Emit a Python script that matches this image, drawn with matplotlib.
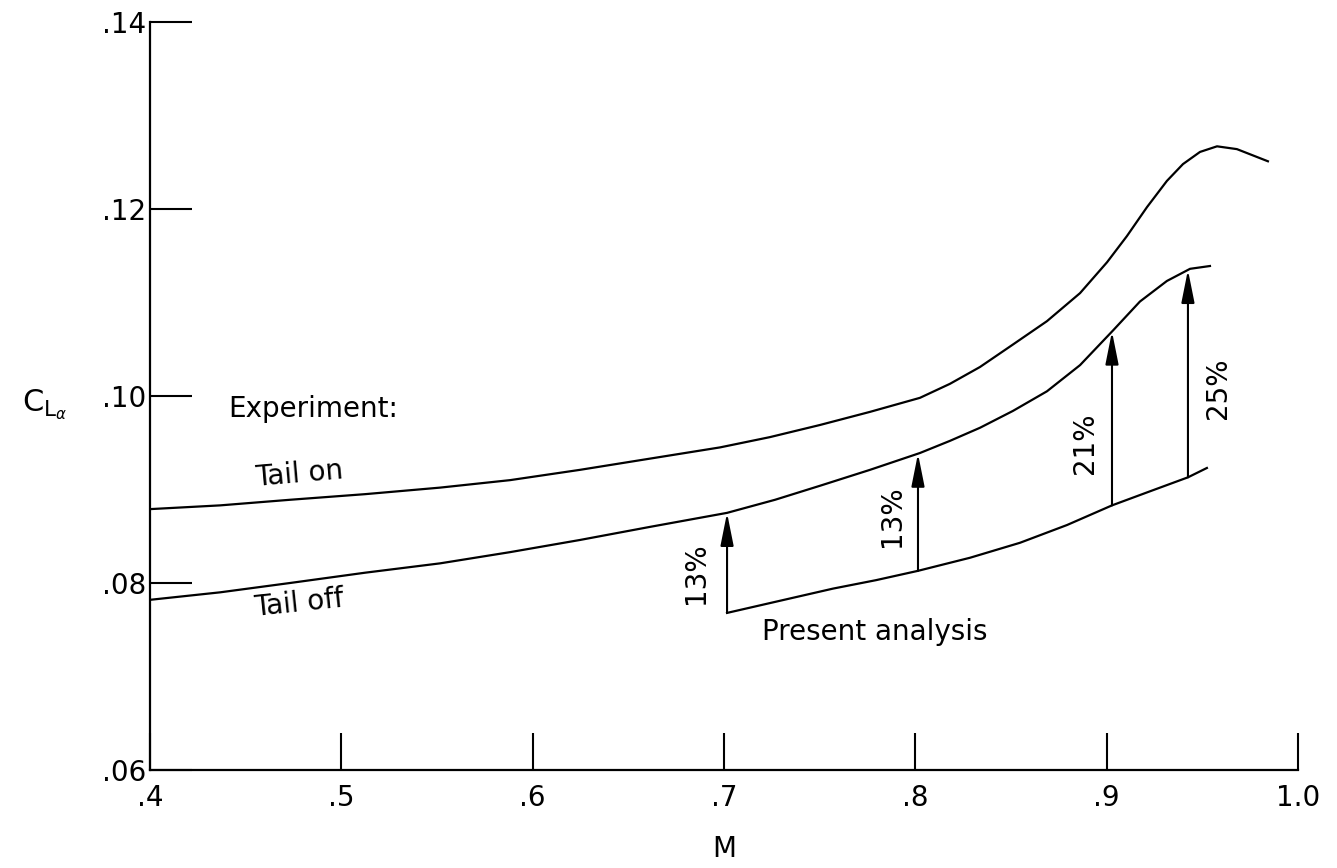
import matplotlib
matplotlib.use('Agg')
from matplotlib import pyplot as plt
import numpy as np

# Experiment, tail on
m_on = [0.4000, 0.4366, 0.4732, 0.5124, 0.5516, 0.5882, 0.6247, 0.6613, 0.6979,
        0.7240, 0.7502, 0.7763, 0.8024, 0.8181, 0.8338, 0.8510, 0.8688, 0.8861,
        0.9002, 0.9106, 0.9211, 0.9315, 0.9399, 0.9488, 0.9577, 0.9681, 0.9843]
cl_on = [0.0879, 0.0883, 0.0889, 0.0895, 0.0902, 0.0910, 0.0921, 0.0933, 0.0945,
         0.0956, 0.0969, 0.0983, 0.0998, 0.1013, 0.1031, 0.1055, 0.1080, 0.1110,
         0.1143, 0.1171, 0.1202, 0.1230, 0.1248, 0.1261, 0.1267, 0.1264, 0.1251]

# Experiment, tail off
m_off = [0.4000, 0.4366, 0.4732, 0.5124, 0.5516, 0.5882, 0.6247, 0.6613, 0.7016,
         0.7267, 0.7502, 0.7763, 0.8024, 0.8181, 0.8338, 0.8510, 0.8688, 0.8861,
         0.9033, 0.9174, 0.9315, 0.9436, 0.9540]
cl_off = [0.0782, 0.0790, 0.0800, 0.0811, 0.0821, 0.0833, 0.0846, 0.0860, 0.0875,
          0.0889, 0.0904, 0.0921, 0.0939, 0.0952, 0.0966, 0.0984, 0.1005, 0.1033,
          0.1070, 0.1101, 0.1123, 0.1136, 0.1139]

# Present analysis
m_pa = [0.7016, 0.7293, 0.7570, 0.7794, 0.8014, 0.8286, 0.8547, 0.8793, 0.9028,
        0.9226, 0.9425, 0.9524]
cl_pa = [0.0768, 0.0781, 0.0794, 0.0803, 0.0813, 0.0827, 0.0843, 0.0862, 0.0883,
         0.0898, 0.0913, 0.0923]

# difference arrows (present analysis -> tail off)
arrow_m = [0.7016, 0.8014, 0.9028, 0.9425]
arrow_labels = ['13%', '13%', '21%', '25%']
label_m = [0.6853, 0.7876, 0.8885, 0.9582]
label_cl = [0.0811, 0.0871, 0.0949, 0.1008]

x_ticks = [0.4, 0.5, 0.6, 0.7, 0.8, 0.9, 1.0]
x_ticklabels = ['.4', '.5', '.6', '.7', '.8', '.9', '1.0']
y_ticks = [0.06, 0.08, 0.10, 0.12, 0.14]
y_ticklabels = ['.06', '.08', '.10', '.12', '.14']

plt.rcParams['font.family'] = ['DejaVu Sans']
plt.rcParams['mathtext.fontset'] = 'dejavusans'
fs = 20

fig = plt.figure(figsize=(13.37, 8.68), dpi=100)
ax = fig.add_subplot()
fig.subplots_adjust(left=0.1122, right=0.9708, bottom=0.1129, top=0.9747)

for mm, cc in [(m_on, cl_on), (m_off, cl_off), (m_pa, cl_pa)]:
    ax.plot(mm, cc, '-', c='black', lw=1.6, solid_joinstyle='round')

for m in arrow_m:
    base = np.interp(m, m_pa, cl_pa)
    top = np.interp(m, m_off, cl_off)
    ax.annotate('', xy=(m, top), xytext=(m, base),
                arrowprops=dict(arrowstyle='-|>,head_length=1.0,head_width=0.2',
                                lw=1.5, color='black', shrinkA=0, shrinkB=0,
                                mutation_scale=20))

for m, c, lab in zip(label_m, label_cl, arrow_labels):
    ax.text(m, c, lab, rotation=90, ha='center', va='center', fontsize=fs)

ax.text(0.4408, 0.0986, 'Experiment:', ha='left', va='center', fontsize=fs)
ax.text(0.478, 0.0916, 'Tail on', ha='center', va='center', fontsize=fs, rotation=5)
ax.text(0.478, 0.0778, 'Tail off', ha='center', va='center', fontsize=fs, rotation=6)
ax.text(0.720, 0.0748, 'Present analysis', ha='left', va='center', fontsize=fs)

ax.set_xlim(0.4, 1.0)
ax.set_ylim(0.06, 0.14)
ax.set_xticks(x_ticks)
ax.set_xticklabels(x_ticklabels)
ax.set_yticks(y_ticks)
ax.set_yticklabels(y_ticklabels)
ax.tick_params(axis='x', direction='in', length=27, width=1.5, pad=10, labelsize=fs)
ax.tick_params(axis='y', direction='in', length=30, width=1.5, pad=3, labelsize=fs)
for side in ['top', 'right']:
    ax.spines[side].set_visible(False)
for side in ['left', 'bottom']:
    ax.spines[side].set_linewidth(1.6)

ax.set_xlabel('M', fontsize=fs)
ax.xaxis.set_label_coords(0.5, -0.087)
ax.set_ylabel(r'$\mathrm{C}_{\mathrm{L}_{\alpha}}$', fontsize=fs + 2, rotation=0,
              ha='center', va='center')
ax.yaxis.set_label_coords(-0.0915, 0.488)

fig.savefig('out.png', dpi=100)
